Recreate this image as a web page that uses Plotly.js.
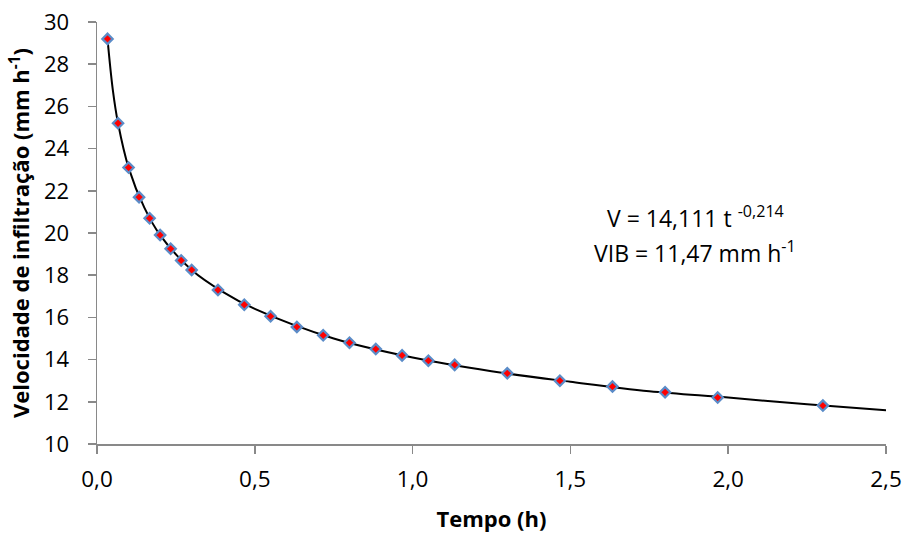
<!DOCTYPE html>
<html>
<head>
<meta charset="utf-8">
<script src="https://cdn.plot.ly/plotly-3.0.1.min.js"></script>
<style>html,body{margin:0;padding:0;background:#fff;}#chart{width:906px;height:533px;}</style>
</head>
<body>
<div id="chart"></div>
<script>
// Observed infiltration rate (mm h-1) vs time (h)
const tempo = [0.0333, 0.0667, 0.1, 0.1333, 0.1667, 0.2, 0.2333, 0.2667, 0.3, 0.3833, 0.4667, 0.55, 0.6333, 0.7167, 0.8, 0.8833, 0.9667, 1.05, 1.1333, 1.3, 1.4667, 1.6333, 1.8, 1.9667, 2.3];
const velocidade = [29.2, 25.2, 23.1, 21.7, 20.7, 19.9, 19.25, 18.7, 18.25, 17.3, 16.6, 16.05, 15.55, 15.15, 14.8, 14.5, 14.2, 13.95, 13.75, 13.35, 13.0, 12.72, 12.45, 12.2, 11.82];
// Fitted trend curve
const curvaT = [0.0333, 0.05, 0.0667, 0.1, 0.15, 0.2, 0.3, 0.4, 0.5, 0.75, 1.0, 1.25, 1.5, 1.75, 2.0, 2.25, 2.5];
const curvaV = [29.2, 26.8, 25.2, 23.1, 21.2, 19.9, 18.25, 17.2, 16.4, 15.0, 14.1, 13.45, 12.95, 12.5, 12.2, 11.88, 11.6];
const xTicks = [0, 0.5, 1.0, 1.5, 2.0, 2.5];
const yTicks = [10, 12, 14, 16, 18, 20, 22, 24, 26, 28, 30];
const eqLine1 = 'V = 14,111 t <sup>-0,214</sup>';
const eqLine2 = 'VIB = 11,47 mm h<sup>-1</sup>';

const font = '"Open Sans", "Liberation Sans", sans-serif';
const axisColor = '#898989';

const traces = [
  {
    x: curvaT, y: curvaV, type: 'scatter', mode: 'lines',
    line: {color: '#000000', width: 2, shape: 'spline', smoothing: 1.0},
    hoverinfo: 'skip', showlegend: false
  },
  {
    x: tempo, y: velocidade, type: 'scatter', mode: 'markers',
    marker: {symbol: 'diamond', size: 8, color: '#ff0000', line: {color: '#5b8cc8', width: 2.2}},
    showlegend: false
  }
];

const layout = {
  width: 906, height: 533,
  margin: {l: 97, r: 20, t: 22, b: 89, pad: 0},
  paper_bgcolor: '#ffffff', plot_bgcolor: '#ffffff',
  separators: ', ',
  font: {family: font, color: '#000000', size: 22},
  xaxis: {
    range: [0, 2.5], tickvals: xTicks, tickformat: '.1f',
    showgrid: false, zeroline: false,
    showline: true, linecolor: axisColor, linewidth: 1.5,
    ticks: 'outside', ticklen: 8, tickwidth: 1.5, tickcolor: axisColor,
    ticklabelstandoff: 6,
    tickfont: {family: font, size: 22.5, color: '#000'},
    title: {text: '<b>Tempo (h)</b>', font: {family: font, size: 22, color: '#000'}, standoff: 19}
  },
  yaxis: {
    range: [10, 30], tickvals: yTicks,
    showgrid: false, zeroline: false,
    showline: true, linecolor: axisColor, linewidth: 1.5,
    ticks: 'outside', ticklen: 8, tickwidth: 1.5, tickcolor: axisColor,
    ticklabelstandoff: 14,
    tickfont: {family: font, size: 22, color: '#000'},
    title: {text: '<b>Velocidade de infiltração (mm h<sup>-1</sup>)</b>', font: {family: font, size: 22, color: '#000'}, standoff: 8}
  },
  annotations: [
    {xref: 'paper', yref: 'paper', x: 0.758, y: 0.537, text: eqLine1, showarrow: false,
     font: {family: font, size: 23, color: '#000'}, xanchor: 'center', yanchor: 'middle'},
    {xref: 'paper', yref: 'paper', x: 0.758, y: 0.456, text: eqLine2, showarrow: false,
     font: {family: font, size: 23, color: '#000'}, xanchor: 'center', yanchor: 'middle'}
  ]
};

Plotly.newPlot('chart', traces, layout, {displayModeBar: false, staticPlot: true});
</script>
</body>
</html>
